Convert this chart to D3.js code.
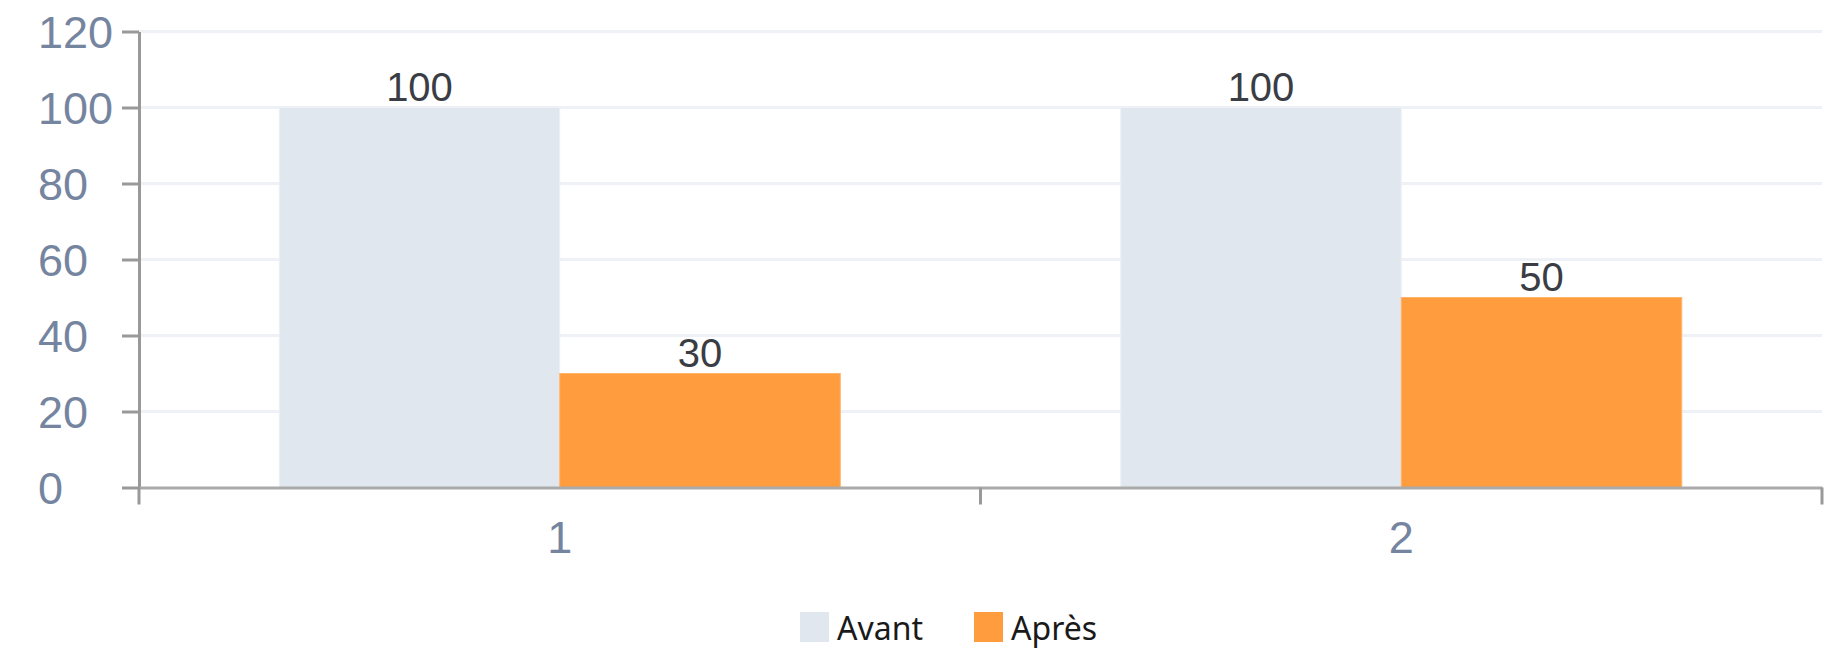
<!DOCTYPE html>
<html>
<head>
<meta charset="utf-8">
<script src="https://cdn.jsdelivr.net/npm/d3@7"></script>
<style>
  body { margin: 0; background: #fff; }
  svg { display: block; }
</style>
</head>
<body>
<div id="chart"></div>
<script>
// data
const categories = ["1", "2"];
const seriesNames = ["Avant", "Après"];
const avant = [100, 100];
const apres = [30, 50];
const yTicks = [0, 20, 40, 60, 80, 100, 120];

const W = 1837, H = 649;
const plotLeft = 139, plotRight = 1822, plotTop = 31.5, plotBottom = 487.5;
const colors = { "Avant": "#e0e7ef", "Après": "#fe9c3e" };

const svg = d3.select("#chart").append("svg")
    .attr("width", W)
    .attr("height", H);

const rows = categories.map((c, i) => ({ cat: c, values: [
    { key: "Avant", value: avant[i] },
    { key: "Après", value: apres[i] }
] }));

const x0 = d3.scaleBand().domain(categories).range([plotLeft, plotRight]).padding(0);
const x1 = d3.scaleBand().domain(seriesNames).range([0, x0.bandwidth()]).paddingInner(0).paddingOuter(0.5);
const y = d3.scaleLinear().domain([0, 120]).range([plotBottom, plotTop]);

// gridlines
svg.append("g").selectAll("line")
    .data(yTicks.filter(d => d > 0))
    .enter().append("line")
    .attr("x1", plotLeft).attr("x2", plotRight)
    .attr("y1", d => y(d)).attr("y2", d => y(d))
    .attr("stroke", "#eef2f7")
    .attr("stroke-width", 3);

// bars
const groups = svg.append("g").selectAll("g")
    .data(rows)
    .enter().append("g")
    .attr("transform", d => `translate(${x0(d.cat)},0)`);

groups.selectAll("rect")
    .data(d => d.values)
    .enter().append("rect")
    .attr("x", d => x1(d.key))
    .attr("y", d => y(d.value))
    .attr("width", x1.bandwidth())
    .attr("height", d => y(0) - y(d.value))
    .attr("fill", d => colors[d.key])
    .attr("stroke", d => d.key === "Avant" ? "#edf1f6" : "#ffb36a")
    .attr("stroke-width", 1);

groups.selectAll("text")
    .data(d => d.values)
    .enter().append("text")
    .attr("x", d => x1(d.key) + x1.bandwidth() / 2)
    .attr("y", d => y(d.value) - 7)
    .attr("text-anchor", "middle")
    .style("font-family", "Liberation Sans, Arial, sans-serif")
    .style("font-size", "40px")
    .style("fill", "#3a3d44")
    .text(d => d.value);

// y axis
const yAxis = svg.append("g")
    .attr("transform", `translate(${plotLeft},0)`)
    .call(d3.axisLeft(y).tickValues(yTicks).tickSize(17).tickPadding(0).tickSizeOuter(0));
yAxis.select(".domain").attr("stroke", "#999").attr("stroke-width", 3);
yAxis.selectAll(".tick line").attr("stroke", "#999").attr("stroke-width", 3);
yAxis.selectAll(".tick text")
    .attr("x", -101)
    .attr("dy", "0.36em")
    .attr("text-anchor", "start")
    .style("font-family", "Liberation Sans, Arial, sans-serif")
    .style("font-size", "45px")
    .style("fill", "#7585a0");

// x axis
const xAxis = svg.append("g")
    .attr("transform", `translate(0,${plotBottom})`)
    .call(d3.axisBottom(x0).tickSize(0).tickPadding(34).tickSizeOuter(0));
xAxis.select(".domain").attr("stroke", "#aaa").attr("stroke-width", 3);
xAxis.selectAll(".tick text")
    .style("font-family", "Liberation Sans, Arial, sans-serif")
    .style("font-size", "45px")
    .style("fill", "#7585a0");

// boundary ticks between categories
const bounds = categories.map(c => x0(c)).concat([x0(categories[categories.length - 1]) + x0.bandwidth()]);
xAxis.selectAll(".btick")
    .data(bounds)
    .enter().append("line")
    .attr("class", "btick")
    .attr("x1", d => d).attr("x2", d => d)
    .attr("y1", 0).attr("y2", 17)
    .attr("stroke", "#999")
    .attr("stroke-width", 3);

// legend
const legend = svg.append("g").selectAll("g")
    .data(seriesNames)
    .enter().append("g")
    .attr("transform", (d, i) => `translate(${[800, 974][i]},612)`);

legend.append("rect")
    .attr("width", 29)
    .attr("height", 30)
    .attr("fill", d => colors[d]);

legend.append("text")
    .attr("x", 37)
    .attr("y", 28)
    .style("font-family", "Noto Sans, Open Sans, sans-serif")
    .style("font-size", "32px")
    .style("fill", "#1a1a1a")
    .text(d => d);
</script>
</body>
</html>
